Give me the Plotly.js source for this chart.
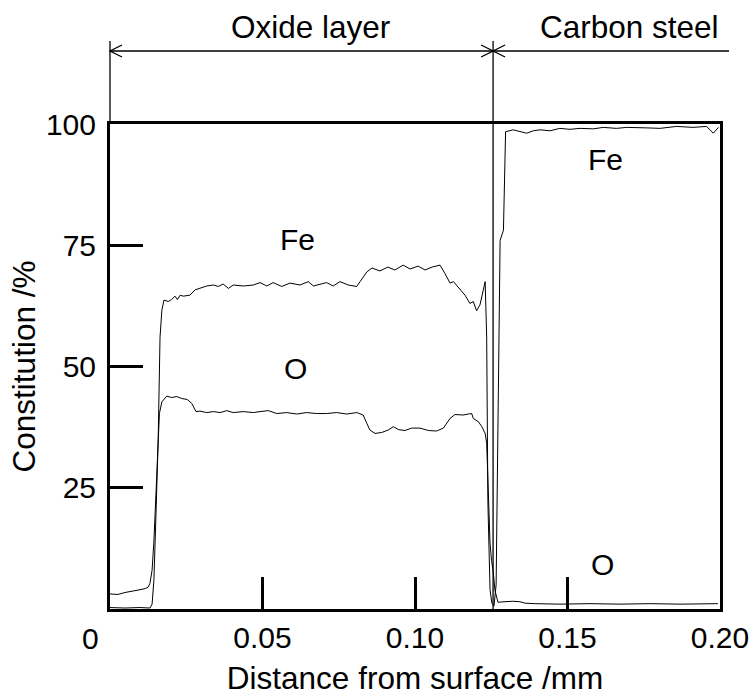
<!DOCTYPE html>
<html>
<head>
<meta charset="utf-8">
<script src="https://cdn.plot.ly/plotly-3.0.1.min.js"></script>
<style>html,body{margin:0;padding:0;background:#fff;}#chart{width:755px;height:697px;}</style>
</head>
<body>
<div id="chart"></div>
<script>
// ---- data (distance in mm, constitution in %) ----
const feX = [0.0000,0.0049,0.0098,0.0131,0.0138,0.0144,0.0151,0.0158,0.0164,0.0170,0.0177,0.0191,0.0202,0.0213,0.0221,0.0230,0.0240,0.0262,0.0279,0.0295,0.0317,0.0339,0.0355,0.0371,0.0388,0.0404,0.0437,0.0470,0.0492,0.0514,0.0535,0.0563,0.0590,0.0623,0.0650,0.0667,0.0710,0.0732,0.0754,0.0781,0.0809,0.0820,0.0842,0.0859,0.0885,0.0911,0.0934,0.0961,0.0984,0.1010,0.1033,0.1056,0.1082,0.1098,0.1115,0.1126,0.1148,0.1164,0.1180,0.1191,0.1202,0.1213,0.1230,0.1235,0.1239,0.1246,0.1252,0.1259,0.1266,0.1272,0.1279,0.1290,0.1297,0.1322,0.1344,0.1366,0.1388,0.1410,0.1443,0.1475,0.1508,0.1541,0.1585,0.1617,0.1661,0.1694,0.1760,0.1803,0.1858,0.1912,0.1956,0.1978,0.1995];
const feY = [0.3,0.2,0.3,0.2,1.0,6,20,35,56,61.6,63.7,63.4,63.8,64.5,63.8,64.7,64.5,64.7,65.8,66.1,66.6,66.8,66.5,67.0,66.1,66.8,66.6,66.8,67.3,66.6,67.3,66.5,67.2,66.8,67.5,66.6,67.3,66.6,67.5,66.8,66.5,67.5,69.5,70.3,69.7,70.5,69.9,70.9,70.1,70.7,69.9,70.5,70.9,69.2,67.2,67.5,65.8,64.7,63.0,63.4,61.5,62.7,67.5,56.1,22,4,1.2,0.6,5,40,76,78.1,98.4,98.8,98.4,98.1,98.6,98.8,98.6,99.1,98.9,99.1,99.0,99.3,99.1,99.3,99.2,99.1,99.5,99.3,99.5,98.1,99.3];
const oX = [0.0000,0.0026,0.0049,0.0072,0.0092,0.0115,0.0125,0.0131,0.0138,0.0144,0.0151,0.0157,0.0162,0.0170,0.0186,0.0202,0.0219,0.0235,0.0253,0.0268,0.0282,0.0295,0.0317,0.0339,0.0361,0.0383,0.0404,0.0437,0.0470,0.0492,0.0519,0.0547,0.0579,0.0612,0.0645,0.0677,0.0710,0.0743,0.0776,0.0809,0.0830,0.0842,0.0852,0.0869,0.0891,0.0912,0.0929,0.0945,0.0967,0.0989,0.1016,0.1044,0.1071,0.1093,0.1115,0.1131,0.1158,0.1175,0.1186,0.1191,0.1208,0.1219,0.1230,0.1235,0.1240,0.1246,0.1251,0.1257,0.1262,0.1268,0.1272,0.1295,0.1321,0.1344,0.1361,0.1393,0.1475,0.1574,0.1672,0.1770,0.1869,0.1993];
const oY = [3.1,3.0,3.4,3.6,3.9,4.2,4.5,5.3,8,14,25,35,40.3,42.7,43.9,43.6,43.8,43.4,43.2,42.4,40.7,40.8,40.5,40.7,40.5,40.9,40.5,40.7,40.5,40.7,40.9,40.3,40.5,40.2,40.5,40.3,40.3,40.5,40.2,40.5,40.0,38.3,36.9,36.2,36.4,36.9,37.6,37.0,36.8,37.3,37.3,36.8,36.7,37.3,39.3,40.1,40.0,40.2,40.3,39.3,38.6,37.6,36.2,34.2,25.9,13.6,10,7.4,3.9,2.5,1.4,1.5,1.6,1.5,1.2,1.1,1.0,1.1,1.0,1.1,1.0,1.1];

const xRange = [0, 0.2];
const yRange = [0, 100];
const xTickVals = [0.05, 0.10, 0.15, 0.20];
const xTickText = ['0.05', '0.10', '0.15', '0.20'];
const yTickVals = [25, 50, 75, 100];
const yTickText = ['25', '50', '75', '100'];
const oxideBoundary = 0.1256;   // mm, oxide / steel interface
const regionLabels = ['Oxide layer', 'Carbon steel'];
const seriesLabels = ['Fe', 'O'];

// ---- layout helpers ----
const FONT = 'Liberation Sans, Arial, Helvetica, sans-serif';
const FS = 30;
const FT = 31.5;
const toPaperX = v => (v - xRange[0]) / (xRange[1] - xRange[0]);
const bPx = toPaperX(oxideBoundary);
const arrowY = 1.1505;
const extTop = 1.171;

const lineTrace = (x, y, name) => ({
  type: 'scatter', mode: 'lines', x: x, y: y, name: name,
  line: {color: '#000', width: 1}, hoverinfo: 'x+y+name'
});

const head = (px, dir) => ({
  type: 'path', xref: 'paper', yref: 'paper',
  xsizemode: 'pixel', ysizemode: 'pixel', xanchor: px, yanchor: arrowY,
  path: dir < 0 ? 'M 12 6 L 0 0 L 12 -6' : 'M -12 6 L 0 0 L -12 -6',
  line: {color: '#000', width: 1.3}
});

const shapes = [
  {type: 'line', xref: 'paper', yref: 'paper', x0: 0, x1: 0, y0: 1, y1: extTop, line: {color: '#000', width: 1.3}},
  {type: 'line', xref: 'paper', yref: 'paper', x0: bPx, x1: bPx, y0: 0, y1: extTop, line: {color: '#000', width: 1.3}},
  {type: 'line', xref: 'paper', yref: 'paper', x0: 0, x1: 1.0148, y0: arrowY, y1: arrowY, line: {color: '#000', width: 1.3}},
  head(0, -1), head(bPx, 1), head(bPx, -1)
];

const txt = (text, x, y, xref, yref, extra) => Object.assign({
  text: text, x: x, y: y, xref: xref, yref: yref, showarrow: false,
  font: {family: FONT, size: FS, color: '#000'}, xanchor: 'center', yanchor: 'middle'
}, extra || {});

const annotations = [
  txt(regionLabels[0], 0.328, 1.2, 'paper', 'paper', {font: {family: FONT, size: FT, color: '#000'}}),
  txt(regionLabels[1], 0.851, 1.2, 'paper', 'paper', {font: {family: FONT, size: FT, color: '#000'}}),
  txt(seriesLabels[0], 0.0616, 76.1, 'x', 'y'),
  txt(seriesLabels[1], 0.0607, 49.5, 'x', 'y'),
  txt(seriesLabels[0], 0.1623, 92.6, 'x', 'y'),
  txt(seriesLabels[1], 0.1616, 9.1, 'x', 'y'),
  txt('0', xRange[0], -0.06, 'x', 'paper', {xshift: -20})
];

const axisCommon = {
  showline: true, linecolor: '#000', linewidth: 3, mirror: true,
  ticks: 'inside', tickcolor: '#000', tickwidth: 3,
  showgrid: false, zeroline: false,
  tickfont: {family: FONT, size: FS, color: '#000'}
};

const layout = {
  width: 755, height: 697,
  margin: {l: 110, r: 35, t: 124, b: 88},
  paper_bgcolor: '#fff', plot_bgcolor: '#fff',
  showlegend: false,
  xaxis: Object.assign({}, axisCommon, {
    range: xRange, tickmode: 'array', tickvals: xTickVals, ticktext: xTickText,
    ticklen: 32, ticklabelstandoff: 0,
    title: {text: 'Distance from surface /mm', font: {family: FONT, size: FT, color: '#000'}, standoff: 14}
  }),
  yaxis: Object.assign({}, axisCommon, {
    range: yRange, tickmode: 'array', tickvals: yTickVals, ticktext: yTickText,
    ticklen: 33, ticklabelstandoff: 5,
    title: {text: 'Constitution /%', font: {family: FONT, size: FT, color: '#000'}, standoff: 1}
  }),
  shapes: shapes,
  annotations: annotations
};

Plotly.newPlot('chart', [lineTrace(feX, feY, 'Fe'), lineTrace(oX, oY, 'O')], layout, {displayModeBar: false, staticPlot: true});
</script>
</body>
</html>
